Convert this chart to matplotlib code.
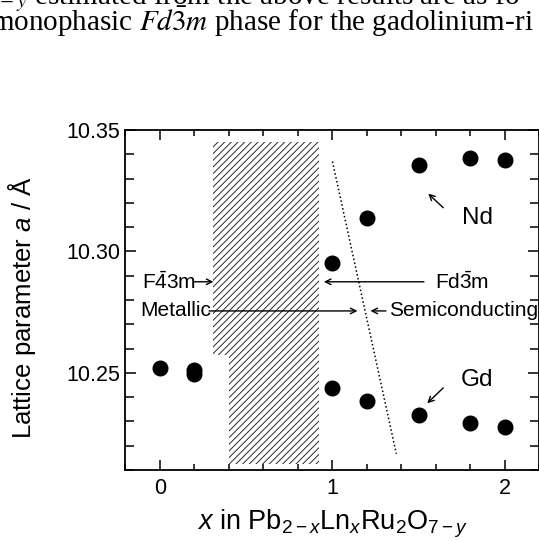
import matplotlib
matplotlib.use("Agg")
import matplotlib.pyplot as plt
from matplotlib.patches import Rectangle
from matplotlib.ticker import MultipleLocator

plt.rcParams['font.family'] = ['Liberation Sans', 'DejaVu Sans']
plt.rcParams['mathtext.fontset'] = 'custom'
plt.rcParams['mathtext.rm'] = 'Liberation Sans'
plt.rcParams['mathtext.it'] = 'Liberation Sans:italic'
plt.rcParams['mathtext.bf'] = 'Liberation Sans:bold'
plt.rcParams['hatch.linewidth'] = 0.7

# ---- data ----
gd_x = [0.0, 0.2, 0.2, 1.0, 1.2, 1.5, 1.8, 2.0]
gd_a = [10.252, 10.2512, 10.2495, 10.2438, 10.2385, 10.2327, 10.2294, 10.2276]
nd_x = [1.0, 1.2, 1.5, 1.8, 2.0]
nd_a = [10.2951, 10.3138, 10.3357, 10.3385, 10.3378]

# two-phase (hatched) region: [x0, x1, a0, a1]
hatch_upper = [0.31, 0.92, 10.2575, 10.345]
hatch_lower = [0.40, 0.92, 10.2125, 10.2575]
# metal / semiconductor boundary (dotted)
boundary_x = [1.0, 1.37]
boundary_a = [10.337, 10.2167]

xticks = [0, 1, 2]
yticks = [10.25, 10.30, 10.35]
ytick_labels = ["10.25", "10.30", "10.35"]

fig = plt.figure(figsize=(5.39, 5.41), dpi=100)
ax = fig.add_axes([0.2328, 0.1312, 0.7681, 0.6285])

for (x0, x1, a0, a1) in (hatch_upper, hatch_lower):
    ax.add_patch(Rectangle((x0, a0), x1 - x0, a1 - a0, facecolor='white',
                           edgecolor='#2a2a2a', linewidth=0, hatch='/////', zorder=1))

ax.plot(boundary_x, boundary_a, color='black', linestyle=(0, (1, 1.6)), lw=1.1, zorder=2)

ax.plot(gd_x, gd_a, 'o', color='black', ms=10.5, zorder=3)
ax.plot(nd_x, nd_a, 'o', color='black', ms=10.5, zorder=3)

ax.set_xlim(-0.2, 2.2)
ax.set_ylim(10.21, 10.35)
ax.set_xticks(xticks)
ax.set_xticklabels([str(t) for t in xticks])
ax.set_yticks(yticks)
ax.set_yticklabels(ytick_labels)
ax.xaxis.set_minor_locator(MultipleLocator(0.2))
ax.yaxis.set_minor_locator(MultipleLocator(0.01))
ax.tick_params(axis='both', which='both', direction='in', top=True, right=True,
               labelsize=15.5, width=1.1, colors='black')
ax.tick_params(axis='x', which='major', length=7, pad=6)
ax.tick_params(axis='x', which='minor', length=4)
ax.tick_params(axis='y', which='major', length=8, pad=4)
ax.tick_params(axis='y', which='minor', length=6.5)
for s in ax.spines.values():
    s.set_linewidth(1.3)

ax.set_ylabel("Lattice parameter $a$ / Å", fontsize=18.5)
ax.yaxis.set_label_coords(-0.212, 0.476)
ax.set_xlabel("$x$ in Pb$_{2\u2212x}$Ln$_x$Ru$_2$O$_{7\u2212y}$", fontsize=19.5, labelpad=6)

fs = 15
arrow = dict(arrowstyle='->', lw=1.0, color='black', shrinkA=0, shrinkB=0, mutation_scale=10)
ax.text(-0.105, 10.2875, "F$\\mathrm{\\bar{4}}$3m", fontsize=fs, va='center', ha='left', zorder=5)
ax.annotate("", xy=(0.31, 10.2875), xytext=(0.20, 10.2875), arrowprops=arrow)
ax.text(1.595, 10.2875, "Fd$\\mathrm{\\bar{3}}$m", fontsize=fs, va='center', ha='left', zorder=5)
ax.annotate("", xy=(0.95, 10.2875), xytext=(1.53, 10.2875), arrowprops=arrow)
ax.text(-0.115, 10.2755, "Metallic", fontsize=fs, va='center', ha='left', zorder=5)
ax.annotate("", xy=(1.145, 10.2755), xytext=(0.285, 10.2755), arrowprops=arrow)
ax.text(1.33, 10.2755, "Semiconducting", fontsize=fs, va='center', ha='left', zorder=5)
ax.annotate("", xy=(1.22, 10.2755), xytext=(1.31, 10.2755), arrowprops=arrow)
ax.text(1.84, 10.3138, "Nd", fontsize=17.5, va='center', ha='center')
ax.annotate("", xy=(1.555, 10.3238), xytext=(1.642, 10.318), arrowprops=arrow)
ax.text(1.84, 10.247, "Gd", fontsize=17.5, va='center', ha='center')
ax.annotate("", xy=(1.549, 10.2375), xytext=(1.642, 10.2438), arrowprops=arrow)

# page text from the scanned page above the figure
fig.text(-14 / 539, 1.0 - 4 / 541, "$_{7-y}$ estimated from the above results are as fo",
         fontsize=21, family='Liberation Serif', math_fontfamily='stix', va='baseline')
fig.text(-9 / 539, 1.0 - 31 / 541, "monophasic $Fd\\bar{3}m$ phase for the gadolinium-ri",
         fontsize=21, family='Liberation Serif', math_fontfamily='stix', va='baseline')

fig.savefig("out.png", dpi=100)
